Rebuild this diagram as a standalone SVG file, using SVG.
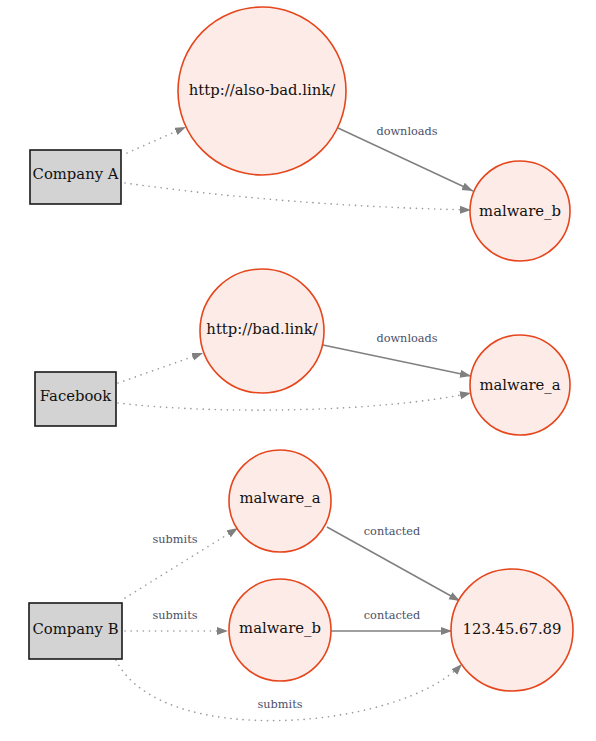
<svg xmlns="http://www.w3.org/2000/svg" width="596" height="741" viewBox="0 0 596 741">
<defs>
<style>
.node-c{fill:#fdebe8;stroke:#e5461c;stroke-width:1.6}
.node-b{fill:#d3d3d3;stroke:#1a1a1a;stroke-width:1.6}
.lbl{font-family:"DejaVu Serif","Liberation Serif",serif;font-size:14.8px;fill:#111;text-anchor:middle;dominant-baseline:central}
.elbl{font-family:"DejaVu Serif","Liberation Serif",serif;font-size:11.3px;fill:#4a5068;text-anchor:middle}
.solid{fill:none;stroke:#808080;stroke-width:1.5;marker-end:url(#arr)}
.dot{fill:none;stroke:#9a9a9a;stroke-width:1.6;stroke-dasharray:0.1 6;stroke-linecap:round;marker-end:url(#arr)}
</style>
<marker id="arr" markerUnits="userSpaceOnUse" markerWidth="12" markerHeight="10" refX="11" refY="4" orient="auto">
<path d="M0,0 L11,4 L0,8 z" fill="#808080"/>
</marker>
</defs>
<rect width="596" height="741" fill="#fff"/>
<g id="edges">
<path class="dot" d="M127,153 L186,127"/>
<path class="dot" d="M125,183 Q290,206 471,210"/>
<path class="solid" d="M338,128 L473,191"/>
<text class="elbl" x="407" y="135">downloads</text>
<path class="dot" d="M118,383 L203,353"/>
<path class="dot" d="M118,403 C220,415 380,412 471,393"/>
<path class="solid" d="M323,345 L471,376"/>
<text class="elbl" x="407" y="342">downloads</text>
<path class="dot" d="M125,598 L238,528"/>
<text class="elbl" x="175" y="543">submits</text>
<path class="dot" d="M125,631 L228,631"/>
<text class="elbl" x="175" y="619">submits</text>
<path class="dot" d="M116,660 C160,750 400,730 462,664"/>
<text class="elbl" x="280" y="708">submits</text>
<path class="solid" d="M327,527 L460,601"/>
<text class="elbl" x="392" y="535">contacted</text>
<path class="solid" d="M331,631 L452,631"/>
<text class="elbl" x="392" y="619">contacted</text>
</g>
<g id="company-a"><rect class="node-b" x="30" y="150" width="91" height="54"/><text class="lbl" x="75.5" y="173">Company A</text></g>
<g id="also-bad-link"><circle class="node-c" cx="262" cy="91" r="84"/><text class="lbl" x="262" y="89">http://also-bad.link/</text></g>
<g id="malware-b-top"><circle class="node-c" cx="520" cy="211" r="50"/><text class="lbl" x="520" y="210">malware_b</text></g>
<g id="facebook"><rect class="node-b" x="35" y="372" width="81" height="54"/><text class="lbl" x="75.5" y="395">Facebook</text></g>
<g id="bad-link"><circle class="node-c" cx="262" cy="331" r="62"/><text class="lbl" x="262" y="328">http://bad.link/</text></g>
<g id="malware-a-mid"><circle class="node-c" cx="520" cy="385" r="50"/><text class="lbl" x="520" y="384">malware_a</text></g>
<g id="company-b"><rect class="node-b" x="29" y="603" width="93" height="56"/><text class="lbl" x="75.5" y="628">Company B</text></g>
<g id="malware-a-low"><circle class="node-c" cx="280" cy="501" r="51"/><text class="lbl" x="280" y="497">malware_a</text></g>
<g id="malware-b-low"><circle class="node-c" cx="280" cy="630" r="51"/><text class="lbl" x="280" y="627">malware_b</text></g>
<g id="ip"><circle class="node-c" cx="512" cy="630" r="61"/><text class="lbl" x="512" y="628">123.45.67.89</text></g>
</svg>
